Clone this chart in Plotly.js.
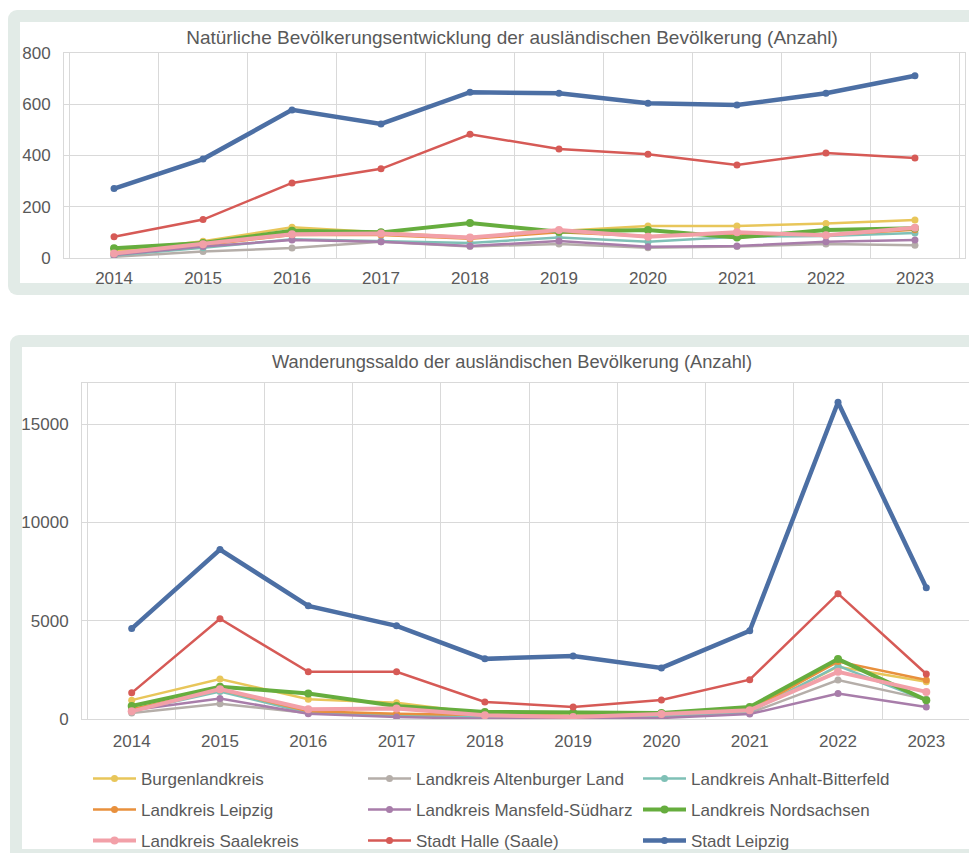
<!DOCTYPE html>
<html>
<head>
<meta charset="utf-8">
<script src="https://cdn.plot.ly/plotly-3.0.1.min.js"></script>
<style>
  html, body { margin:0; padding:0; background:#ffffff; width:969px; height:853px; overflow:hidden; position:relative; }
  .frame { position:absolute; background:#e2ebe7; border-radius:9px; }
  .inner { position:absolute; background:#ffffff; }
  .chart { position:absolute; z-index:2; }
</style>
</head>
<body>
<div class="frame" style="left:8px; top:10px; width:1000px; height:285px;"></div>
<div class="inner" style="left:20px; top:22px; width:980px; height:261px;"></div>
<div class="frame" style="left:10px; top:335px; width:1000px; height:540px;"></div>
<div class="inner" style="left:22px; top:347px; width:980px; height:502px;"></div>
<div class="chart" id="top" style="left:0px; top:0px; width:975px; height:295px;"></div>
<div class="chart" id="bot" style="left:0px; top:335px; width:986px; height:518px;"></div>
<script>
// ---- data ----
const years = ["2014","2015","2016","2017","2018","2019","2020","2021","2022","2023"];
const seriesNames = [
  "Burgenlandkreis",
  "Landkreis Altenburger Land",
  "Landkreis Anhalt-Bitterfeld",
  "Landkreis Leipzig",
  "Landkreis Mansfeld-Südharz",
  "Landkreis Nordsachsen",
  "Landkreis Saalekreis",
  "Stadt Halle (Saale)",
  "Stadt Leipzig"
];
// Natürliche Bevölkerungsentwicklung (top chart)
const natBurgenland   = [25, 65, 120, 100, 80, 105, 125, 125, 135, 148];
const natAltenburg    = [5, 25, 39, 63, 45, 55, 40, 45, 55, 50];
const natAnhalt       = [10, 40, 73, 66, 59, 80, 63, 83, 86, 98];
const natLkLeipzig    = [15, 50, 90, 90, 75, 100, 85, 95, 90, 110];
const natMansfeld     = [12, 45, 70, 63, 47, 66, 44, 47, 63, 70];
const natNordsachsen  = [38, 59, 106, 100, 137, 102, 109, 80, 109, 116];
const natSaalekreis   = [18, 54, 93, 96, 80, 109, 83, 100, 89, 118];
const natHalle        = [83, 150, 293, 348, 483, 425, 405, 363, 410, 390];
const natLeipzig      = [271, 386, 578, 523, 647, 643, 604, 597, 643, 711];
// Wanderungssaldo (bottom chart)
const migBurgenland   = [960, 2030, 1010, 830, 270, 150, 250, 400, 2660, 1900];
const migAltenburg    = [300, 780, 300, 200, 100, 50, 100, 300, 1980, 1000];
const migAnhalt       = [400, 1400, 300, 150, 100, 80, 150, 350, 2700, 950];
const migLkLeipzig    = [500, 1500, 400, 270, 200, 150, 250, 450, 2920, 1980];
const migMansfeld     = [450, 1040, 270, 100, 15, 20, 50, 250, 1300, 610];
const migNordsachsen  = [665, 1640, 1300, 665, 360, 320, 300, 610, 3050, 960];
const migSaalekreis   = [390, 1520, 500, 530, 190, 100, 250, 450, 2400, 1380];
const migHalle        = [1330, 5100, 2400, 2400, 870, 610, 970, 2000, 6380, 2290];
const migLeipzig      = [4600, 8620, 5760, 4740, 3060, 3210, 2600, 4490, 16120, 6680];

const topTitle = "Natürliche Bevölkerungsentwicklung der ausländischen Bevölkerung (Anzahl)";
const botTitle = "Wanderungssaldo der ausländischen Bevölkerung (Anzahl)";
const topTicks = [0, 200, 400, 600, 800];
const botTicks = [0, 5000, 10000, 15000];

// ---- styles ----
const colors = ["#e8c65a", "#b5aea9", "#7fc0b6", "#e8903d", "#a87daa", "#66ad3e", "#f2a0a8", "#d65a56", "#4c6fa4"];
const widths = [2.5, 2.5, 2.5, 2.5, 2.5, 4, 4, 2.5, 4.5];
const msizes = [7, 7, 7, 7, 7, 8, 8, 7, 7];
const legendIds = ["legend","legend","legend","legend2","legend2","legend2","legend3","legend3","legend3"];

const natData = [natBurgenland, natAltenburg, natAnhalt, natLkLeipzig, natMansfeld, natNordsachsen, natSaalekreis, natHalle, natLeipzig];
const migData = [migBurgenland, migAltenburg, migAnhalt, migLkLeipzig, migMansfeld, migNordsachsen, migSaalekreis, migHalle, migLeipzig];

const FONT = "Liberation Sans, Arial, sans-serif";
const TXT = "#595959";
const GRID = "#d9d9d9";
const CLEAR = "rgba(0,0,0,0)";

function makeTraces(data, withLegend) {
  return data.map((vals, i) => ({
    type: "scatter", mode: "lines+markers",
    x: years, y: vals, name: seriesNames[i],
    line: { color: colors[i], width: widths[i] },
    marker: { color: colors[i], size: msizes[i] },
    showlegend: withLegend,
    legend: legendIds[i],
    hoverinfo: "skip"
  }));
}

function xaxis(standoff) {
  return {
    type: "category", tickson: "boundaries",
    showgrid: true, gridcolor: GRID, gridwidth: 1,
    showline: true, mirror: true, linecolor: GRID, linewidth: 1,
    ticks: "outside", ticklen: 6, tickcolor: CLEAR,
    ticklabelstandoff: standoff,
    tickfont: { family: FONT, size: 17, color: TXT },
    zeroline: false, fixedrange: true
  };
}
function yaxis(range, ticks) {
  return {
    range: range, tickvals: ticks, ticktext: ticks.map(String),
    showgrid: true, gridcolor: GRID, gridwidth: 1,
    showline: true, mirror: true, linecolor: GRID, linewidth: 1,
    ticks: "outside", ticklen: 9, tickcolor: CLEAR,
    tickfont: { family: FONT, size: 17, color: TXT },
    zeroline: false, fixedrange: true
  };
}

const topLayout = {
  width: 975, height: 295,
  margin: { l: 64, r: 10, t: 53, b: 37 },
  paper_bgcolor: CLEAR, plot_bgcolor: CLEAR,
  title: { text: topTitle, font: { family: FONT, size: 19, color: TXT },
           xref: "container", x: 512/975, xanchor: "center",
           yref: "container", y: 1 - 37/295, yanchor: "middle" },
  xaxis: xaxis(5),
  yaxis: yaxis([0, 800], topTicks),
  showlegend: false
};

function legendBox(rowCenter) {
  return {
    orientation: "h", xref: "container", yref: "container",
    x: 88/986, xanchor: "left",
    y: 1 - rowCenter/518, yanchor: "middle",
    entrywidth: 217, entrywidthmode: "pixels",
    itemwidth: 43,
    font: { family: FONT, size: 17, color: TXT },
    bgcolor: CLEAR, borderwidth: 0
  };
}

const botLayout = {
  width: 986, height: 518,
  margin: { l: 82, r: 10, t: 48, b: 134 },
  paper_bgcolor: CLEAR, plot_bgcolor: CLEAR,
  title: { text: botTitle, font: { family: FONT, size: 18.3, color: TXT },
           xref: "container", x: 512/986, xanchor: "center",
           yref: "container", y: 1 - 27/518, yanchor: "middle" },
  xaxis: xaxis(7),
  yaxis: yaxis([0, 17100], botTicks),
  showlegend: true,
  legend: legendBox(444),
  legend2: legendBox(475),
  legend3: legendBox(506)
};

const cfg = { displayModeBar: false, staticPlot: true };
Plotly.newPlot("top", makeTraces(natData, false), topLayout, cfg);
Plotly.newPlot("bot", makeTraces(migData, true), botLayout, cfg);
</script>
</body>
</html>
